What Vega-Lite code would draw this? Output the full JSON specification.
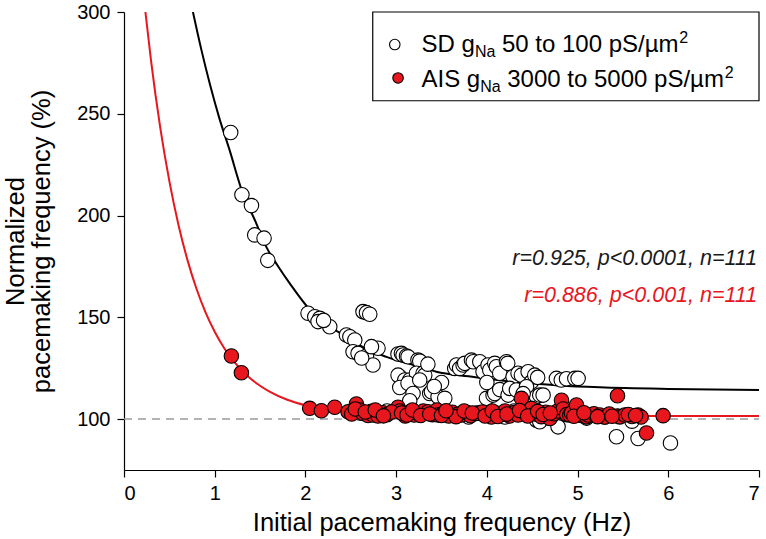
{
  "$schema": "https://vega.github.io/schema/vega-lite/v6.json",
  "width": 635,
  "height": 458,
  "autosize": {"type": "none"},
  "padding": {"left": 124, "top": 12, "right": 7, "bottom": 69},
  "background": "white",
  "config": {
    "view": {"stroke": null},
    "font": "Liberation Sans",
    "axis": {
      "grid": false,
      "domainColor": "black",
      "domainWidth": 1.2,
      "tickColor": "black",
      "tickWidth": 1.2,
      "tickSize": 7,
      "labelFont": "Liberation Sans",
      "labelFontSize": 20,
      "labelColor": "black",
      "titleFont": "Liberation Sans",
      "titleFontSize": 25.5,
      "titleFontWeight": "normal",
      "titleColor": "black"
    }
  },
  "datasets": {
    "sd": [
      {"x": 1.176, "y": 240.8}, {"x": 1.30, "y": 210.2}, {"x": 1.405, "y": 204.9}, {"x": 1.441, "y": 190.5},
      {"x": 1.544, "y": 188.9}, {"x": 1.585, "y": 178}, {"x": 2.029, "y": 152}, {"x": 2.103, "y": 150.3},
      {"x": 2.158, "y": 149.5}, {"x": 2.139, "y": 147.9}, {"x": 2.268, "y": 145.4}, {"x": 2.20, "y": 148.5},
      {"x": 2.635, "y": 152.8}, {"x": 2.673, "y": 152.3}, {"x": 2.709, "y": 151.5}, {"x": 2.452, "y": 141.3},
      {"x": 2.49, "y": 140.5}, {"x": 2.544, "y": 138.9}, {"x": 2.525, "y": 133.1}, {"x": 2.58, "y": 132.3},
      {"x": 2.673, "y": 131}, {"x": 2.745, "y": 126.6}, {"x": 2.80, "y": 134.8}, {"x": 2.728, "y": 135.6},
      {"x": 2.62, "y": 130}, {"x": 3.02, "y": 132}, {"x": 3.058, "y": 132.3}, {"x": 3.076, "y": 131.5},
      {"x": 3.114, "y": 131}, {"x": 3.131, "y": 130.6}, {"x": 3.24, "y": 129}, {"x": 3.26, "y": 128.5},
      {"x": 3.04, "y": 120.8}, {"x": 3.021, "y": 121.6}, {"x": 3.095, "y": 119.2}, {"x": 3.15, "y": 119.2},
      {"x": 3.224, "y": 122.5}, {"x": 3.297, "y": 122.5}, {"x": 3.315, "y": 121.6}, {"x": 3.04, "y": 115.5},
      {"x": 3.131, "y": 117.6}, {"x": 3.186, "y": 112.6}, {"x": 3.26, "y": 119.2}, {"x": 3.37, "y": 112.6},
      {"x": 3.389, "y": 113.4}, {"x": 3.462, "y": 111}, {"x": 3.536, "y": 110.2}, {"x": 3.646, "y": 124.9},
      {"x": 3.665, "y": 126.6}, {"x": 3.70, "y": 124.9}, {"x": 3.738, "y": 126.6}, {"x": 3.756, "y": 127.4},
      {"x": 3.83, "y": 129}, {"x": 3.85, "y": 128.2}, {"x": 3.922, "y": 128.2}, {"x": 3.958, "y": 123.3},
      {"x": 4.013, "y": 126.6}, {"x": 4.032, "y": 124.1}, {"x": 4.087, "y": 127.4}, {"x": 4.105, "y": 125.7},
      {"x": 4.142, "y": 122.5}, {"x": 4.216, "y": 128.2}, {"x": 4.23, "y": 127.4}, {"x": 4.289, "y": 120.8},
      {"x": 4.344, "y": 122.5}, {"x": 4.381, "y": 121.6}, {"x": 4.455, "y": 123.3}, {"x": 4.492, "y": 118.3},
      {"x": 4.528, "y": 121.6}, {"x": 4.56, "y": 120.5}, {"x": 4.767, "y": 120}, {"x": 4.82, "y": 119.2},
      {"x": 4.878, "y": 119.8}, {"x": 4.97, "y": 120}, {"x": 5.006, "y": 120}, {"x": 3.996, "y": 110.2},
      {"x": 4.068, "y": 111.8}, {"x": 4.087, "y": 112.6}, {"x": 4.142, "y": 114.5}, {"x": 4.234, "y": 111.8},
      {"x": 4.252, "y": 115.1}, {"x": 4.326, "y": 114.3}, {"x": 4.437, "y": 115.9}, {"x": 4.547, "y": 111},
      {"x": 4.583, "y": 111.8}, {"x": 4.62, "y": 111.8}, {"x": 4.547, "y": 99.5}, {"x": 4.583, "y": 98.7},
      {"x": 4.785, "y": 96.2}, {"x": 5.429, "y": 91.3}, {"x": 5.667, "y": 90.5}, {"x": 6.024, "y": 88.3},
      {"x": 2.9, "y": 104}, {"x": 3.3, "y": 103}, {"x": 3.6, "y": 102}, {"x": 3.9, "y": 103},
      {"x": 4.2, "y": 101}, {"x": 4.7, "y": 100.5}, {"x": 5.3, "y": 101}, {"x": 5.6, "y": 99},
      {"x": 3.5, "y": 118}, {"x": 3.42, "y": 116}, {"x": 4.4, "y": 112.5}, {"x": 4.9, "y": 103},
      {"x": 5.1, "y": 100.5}, {"x": 4.3, "y": 104}, {"x": 3.8, "y": 101}, {"x": 3.15, "y": 109},
      {"x": 2.6, "y": 103}, {"x": 4.0, "y": 118}, {"x": 3.35, "y": 127}
    ],
    "ais": [
      {"x": 1.184, "y": 131}, {"x": 1.294, "y": 122.8}, {"x": 2.047, "y": 105.3}, {"x": 2.176, "y": 104.1},
      {"x": 2.323, "y": 105.8}, {"x": 2.47, "y": 103.6}, {"x": 2.51, "y": 102.5}, {"x": 2.562, "y": 107.4},
      {"x": 2.60, "y": 104.5}, {"x": 2.635, "y": 102.8}, {"x": 2.69, "y": 101.8}, {"x": 2.728, "y": 103.9},
      {"x": 2.745, "y": 102}, {"x": 2.80, "y": 101.5}, {"x": 2.856, "y": 103.1}, {"x": 2.90, "y": 102.2},
      {"x": 3.021, "y": 105.8}, {"x": 3.04, "y": 104}, {"x": 3.076, "y": 102.8}, {"x": 3.10, "y": 101.5},
      {"x": 3.15, "y": 103.5}, {"x": 3.20, "y": 102}, {"x": 3.241, "y": 102.8}, {"x": 3.30, "y": 104},
      {"x": 3.352, "y": 103.6}, {"x": 3.40, "y": 102.2}, {"x": 3.45, "y": 104.5}, {"x": 3.462, "y": 102},
      {"x": 3.52, "y": 103}, {"x": 3.58, "y": 101.5}, {"x": 3.62, "y": 103.4}, {"x": 3.68, "y": 102.4},
      {"x": 3.72, "y": 102}, {"x": 3.78, "y": 103.2}, {"x": 3.82, "y": 101.6}, {"x": 3.88, "y": 102.8},
      {"x": 3.95, "y": 103.5}, {"x": 4.013, "y": 102}, {"x": 4.05, "y": 101}, {"x": 4.10, "y": 103},
      {"x": 4.15, "y": 102.2}, {"x": 4.20, "y": 104}, {"x": 4.25, "y": 101.5}, {"x": 4.30, "y": 103.2},
      {"x": 4.344, "y": 102}, {"x": 4.381, "y": 110.2}, {"x": 4.42, "y": 103}, {"x": 4.473, "y": 103.6},
      {"x": 4.492, "y": 105.3}, {"x": 4.53, "y": 102.5}, {"x": 4.60, "y": 101.2}, {"x": 4.65, "y": 103.4},
      {"x": 4.694, "y": 100.3}, {"x": 4.74, "y": 102.6}, {"x": 4.78, "y": 104}, {"x": 4.823, "y": 109.3},
      {"x": 4.84, "y": 105}, {"x": 4.88, "y": 102.2}, {"x": 4.914, "y": 102}, {"x": 4.933, "y": 103},
      {"x": 4.988, "y": 106.9}, {"x": 5.04, "y": 101.8}, {"x": 5.098, "y": 101.1}, {"x": 5.116, "y": 102},
      {"x": 5.18, "y": 102.6}, {"x": 5.245, "y": 102}, {"x": 5.30, "y": 101}, {"x": 5.35, "y": 102.5},
      {"x": 5.44, "y": 111.5}, {"x": 5.44, "y": 101.5}, {"x": 5.465, "y": 101.1}, {"x": 5.52, "y": 102},
      {"x": 5.60, "y": 101.3}, {"x": 5.667, "y": 102}, {"x": 5.70, "y": 101}, {"x": 5.76, "y": 93.2},
      {"x": 5.943, "y": 101.7}, {"x": 2.55, "y": 105}, {"x": 2.66, "y": 103.5}, {"x": 2.77, "y": 104.5},
      {"x": 2.95, "y": 103.5}, {"x": 3.06, "y": 103}, {"x": 3.12, "y": 102}, {"x": 3.18, "y": 104.5},
      {"x": 3.27, "y": 101.8}, {"x": 3.37, "y": 102.5}, {"x": 3.50, "y": 101.8}, {"x": 3.66, "y": 101.2},
      {"x": 3.75, "y": 104}, {"x": 3.84, "y": 103}, {"x": 3.98, "y": 101.5}, {"x": 4.06, "y": 104},
      {"x": 4.12, "y": 101.3}, {"x": 4.22, "y": 102.5}, {"x": 4.36, "y": 104.2}, {"x": 4.45, "y": 101.5},
      {"x": 4.56, "y": 103.8}, {"x": 4.62, "y": 102.3}, {"x": 4.70, "y": 103}, {"x": 4.96, "y": 101.4},
      {"x": 5.07, "y": 103.1}, {"x": 5.22, "y": 101.2}, {"x": 5.38, "y": 101.4}, {"x": 5.56, "y": 102.3},
      {"x": 5.64, "y": 101.8}, {"x": 2.86, "y": 101.6}, {"x": 3.55, "y": 104.1}
    ],
    "sdfit": [
      {"x": 0.76, "y": 300}, {"x": 0.85, "y": 282}, {"x": 0.95, "y": 264}, {"x": 1.05, "y": 248},
      {"x": 1.165, "y": 232}, {"x": 1.294, "y": 213}, {"x": 1.45, "y": 197}, {"x": 1.57, "y": 184.5},
      {"x": 1.7, "y": 175}, {"x": 1.827, "y": 166.7}, {"x": 2.084, "y": 152}, {"x": 2.25, "y": 146},
      {"x": 2.45, "y": 140.5}, {"x": 2.65, "y": 135}, {"x": 2.893, "y": 130.6}, {"x": 3.26, "y": 125.7},
      {"x": 3.444, "y": 123.3}, {"x": 3.8, "y": 121}, {"x": 4.29, "y": 118.3}, {"x": 4.8, "y": 116.5},
      {"x": 5.245, "y": 115.6}, {"x": 6.0, "y": 114.8}, {"x": 7.0, "y": 114.3}
    ],
    "aisfit": [
      {"x": 0.236, "y": 300}, {"x": 0.3, "y": 275.4}, {"x": 0.4, "y": 243.1}, {"x": 0.5, "y": 216.9},
      {"x": 0.6, "y": 195.5}, {"x": 0.7, "y": 178.1}, {"x": 0.8, "y": 163.9}, {"x": 0.9, "y": 152.3},
      {"x": 1.0, "y": 142.9}, {"x": 1.1, "y": 135.2}, {"x": 1.2, "y": 129}, {"x": 1.3, "y": 123.9},
      {"x": 1.4, "y": 119.7}, {"x": 1.5, "y": 116.4}, {"x": 1.6, "y": 113.6}, {"x": 1.8, "y": 109.5},
      {"x": 2.0, "y": 106.8}, {"x": 2.2, "y": 105}, {"x": 2.5, "y": 103.4}, {"x": 3.0, "y": 102.2},
      {"x": 3.5, "y": 101.8}, {"x": 4.0, "y": 101.6}, {"x": 5.0, "y": 101.5}, {"x": 7.0, "y": 101.5}
    ],
    "ref": [{"x": 0, "y": 100}, {"x": 7, "y": 100}],
    "legendbox": [{"x": 2.742, "x2": 7.0, "y": 256.4, "y2": 300}],
    "legsd": [{"x": 2.985, "y": 284}],
    "legais": [{"x": 3.021, "y": 267.6}],
    "legmain": [
      {"x": 3.279, "y": 280.4, "t": "SD g"},
      {"x": 4.166, "y": 280.4, "t": "50 to 100 pS/µm"},
      {"x": 3.279, "y": 263.2, "t": "AIS g"},
      {"x": 4.225, "y": 263.2, "t": "3000 to 5000 pS/µm"}
    ],
    "legsub": [
      {"x": 3.868, "y": 278.0, "t": "Na"},
      {"x": 3.926, "y": 260.8, "t": "Na"}
    ],
    "legsup": [
      {"x": 6.121, "y": 285.0, "t": "2"},
      {"x": 6.623, "y": 267.8, "t": "2"}
    ],
    "stat1": [{"x": 6.98, "y": 175.7, "t": "r=0.925, p<0.0001, n=111"}],
    "stat2": [{"x": 6.98, "y": 157.7, "t": "r=0.886, p<0.001, n=111"}]
  },
  "layer": [
    {
      "data": {"name": "ref"},
      "mark": {"type": "line", "color": "#9a9a9a", "strokeWidth": 1.5, "strokeDash": [8, 6]},
      "encoding": {
        "x": {"field": "x", "type": "quantitative", "scale": {"domain": [0, 7], "nice": false, "zero": false},
              "axis": {"values": [0, 1, 2, 3, 4, 5, 6, 7], "format": "d", "title": "Initial pacemaking frequency (Hz)", "labelPadding": 6, "titlePadding": 7}},
        "y": {"field": "y", "type": "quantitative", "scale": {"domain": [75, 300], "nice": false, "zero": false},
              "axis": {"values": [100, 150, 200, 250, 300], "format": "d", "title": ["Normalized", "pacemaking frequency (%)"], "labelPadding": 7, "titlePadding": 22, "titleLineHeight": 26}}
      }
    },
    {
      "data": {"name": "sdfit"},
      "mark": {"type": "line", "color": "black", "strokeWidth": 2, "interpolate": "monotone", "clip": true},
      "encoding": {"x": {"field": "x", "type": "quantitative"}, "y": {"field": "y", "type": "quantitative"}}
    },
    {
      "data": {"name": "aisfit"},
      "mark": {"type": "line", "color": "#e8161d", "strokeWidth": 2, "interpolate": "monotone", "clip": true},
      "encoding": {"x": {"field": "x", "type": "quantitative"}, "y": {"field": "y", "type": "quantitative"}}
    },
    {
      "data": {"name": "sd"},
      "mark": {"type": "point", "shape": "circle", "filled": true, "fill": "white", "stroke": "black", "strokeWidth": 1.1, "size": 210, "opacity": 1},
      "encoding": {"x": {"field": "x", "type": "quantitative"}, "y": {"field": "y", "type": "quantitative"}}
    },
    {
      "data": {"name": "ais"},
      "mark": {"type": "point", "shape": "circle", "filled": true, "fill": "#e8161d", "stroke": "black", "strokeWidth": 1.1, "size": 210, "opacity": 1},
      "encoding": {"x": {"field": "x", "type": "quantitative"}, "y": {"field": "y", "type": "quantitative"}}
    },
    {
      "data": {"name": "stat1"},
      "mark": {"type": "text", "align": "right", "baseline": "alphabetic", "fontSize": 21.5, "fontStyle": "italic", "color": "#1a1a1a"},
      "encoding": {"x": {"field": "x", "type": "quantitative"}, "y": {"field": "y", "type": "quantitative"}, "text": {"field": "t"}}
    },
    {
      "data": {"name": "stat2"},
      "mark": {"type": "text", "align": "right", "baseline": "alphabetic", "fontSize": 21.5, "fontStyle": "italic", "color": "#e8161d"},
      "encoding": {"x": {"field": "x", "type": "quantitative"}, "y": {"field": "y", "type": "quantitative"}, "text": {"field": "t"}}
    },
    {
      "data": {"name": "legendbox"},
      "mark": {"type": "rect", "fill": "white", "stroke": "black", "strokeWidth": 1.2},
      "encoding": {"x": {"field": "x", "type": "quantitative"}, "x2": {"field": "x2"}, "y": {"field": "y", "type": "quantitative"}, "y2": {"field": "y2"}}
    },
    {
      "data": {"name": "legsd"},
      "mark": {"type": "point", "shape": "circle", "filled": true, "fill": "white", "stroke": "black", "strokeWidth": 1.1, "size": 110, "opacity": 1},
      "encoding": {"x": {"field": "x", "type": "quantitative"}, "y": {"field": "y", "type": "quantitative"}}
    },
    {
      "data": {"name": "legais"},
      "mark": {"type": "point", "shape": "circle", "filled": true, "fill": "#e8161d", "stroke": "black", "strokeWidth": 1.1, "size": 110, "opacity": 1},
      "encoding": {"x": {"field": "x", "type": "quantitative"}, "y": {"field": "y", "type": "quantitative"}}
    },
    {
      "data": {"name": "legmain"},
      "mark": {"type": "text", "align": "left", "baseline": "alphabetic", "fontSize": 24, "color": "black"},
      "encoding": {"x": {"field": "x", "type": "quantitative"}, "y": {"field": "y", "type": "quantitative"}, "text": {"field": "t"}}
    },
    {
      "data": {"name": "legsub"},
      "mark": {"type": "text", "align": "left", "baseline": "alphabetic", "fontSize": 16, "color": "black"},
      "encoding": {"x": {"field": "x", "type": "quantitative"}, "y": {"field": "y", "type": "quantitative"}, "text": {"field": "t"}}
    },
    {
      "data": {"name": "legsup"},
      "mark": {"type": "text", "align": "left", "baseline": "alphabetic", "fontSize": 16, "color": "black"},
      "encoding": {"x": {"field": "x", "type": "quantitative"}, "y": {"field": "y", "type": "quantitative"}, "text": {"field": "t"}}
    }
  ]
}
